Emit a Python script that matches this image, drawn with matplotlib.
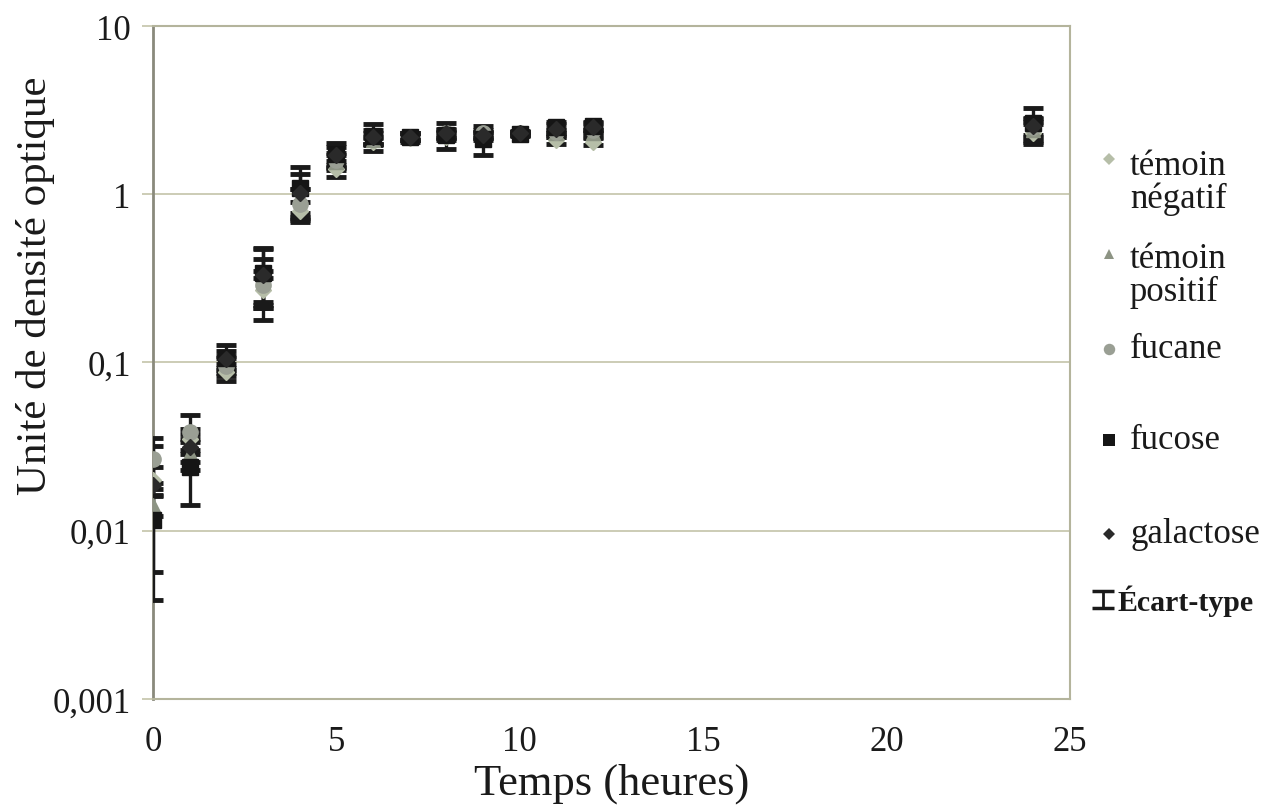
import matplotlib
matplotlib.use("Agg")
import matplotlib.pyplot as plt
from matplotlib.lines import Line2D
from matplotlib.ticker import FixedLocator, NullLocator

plt.rcParams['font.family'] = ['Liberation Serif', 'DejaVu Serif']

# Time points (hours)
time = [0, 1, 2, 3, 4, 5, 6, 7, 8, 9, 10, 11, 12, 24]

# Optical density per condition
temoin_negatif = [0.020, 0.035, 0.088, 0.27, 0.80, 1.42, 2.05, 2.15, 2.20, 2.20, 2.30, 2.10, 2.05, 2.30]
temoin_positif = [0.0142, 0.029, 0.100, 0.31, 0.92, 1.55, 2.10, 2.20, 2.25, 2.25, 2.30, 2.30, 2.30, 2.40]
fucane = [0.0266, 0.0385, 0.095, 0.29, 0.88, 1.60, 2.15, 2.20, 2.30, 2.30, 2.30, 2.35, 2.40, 2.50]
fucose = [0.0116, 0.0239, 0.107, 0.34, 1.09, 1.73, 2.22, 2.20, 2.25, 2.12, 2.28, 2.50, 2.55, 2.65]
galactose = [0.0187, 0.0315, 0.105, 0.33, 1.02, 1.70, 2.20, 2.20, 2.30, 2.25, 2.32, 2.45, 2.50, 2.55]

# Standard deviations
sd_temoin_negatif = [0.004, 0.005, 0.010, 0.05, 0.10, 0.15, 0.10, 0.10, 0.10, 0.10, 0.05, 0.10, 0.10, 0.30]
sd_temoin_positif = [0.002, 0.006, 0.010, 0.10, 0.15, 0.15, 0.10, 0.10, 0.10, 0.10, 0.05, 0.10, 0.10, 0.30]
sd_fucane = [0.009, 0.010, 0.012, 0.06, 0.20, 0.15, 0.15, 0.10, 0.15, 0.10, 0.05, 0.10, 0.10, 0.30]
sd_fucose = [0.0077, 0.0097, 0.020, 0.13, 0.36, 0.30, 0.40, 0.10, 0.40, 0.42, 0.05, 0.20, 0.15, 0.60]
sd_galactose = [0.013, 0.006, 0.012, 0.15, 0.30, 0.20, 0.20, 0.10, 0.10, 0.10, 0.05, 0.15, 0.15, 0.30]

labels = ["témoin\nnégatif", "témoin\npositif", "fucane", "fucose", "galactose"]
series = [temoin_negatif, temoin_positif, fucane, fucose, galactose]
errors = [sd_temoin_negatif, sd_temoin_positif, sd_fucane, sd_fucose, sd_galactose]
colors = ["#b6bea8", "#8d9484", "#9a9f94", "#151515", "#2a2a2a"]
markers = ["D", "^", "o", "s", "D"]
sizes = [8, 10, 11, 11, 8]

fig = plt.figure(figsize=(12.66, 8.12), dpi=100)
ax = fig.add_axes([0.1209, 0.138, 0.7241, 0.8287])

for y, e, c, m, s in zip(series, errors, colors, markers, sizes):
    ax.errorbar(time, y, yerr=e, fmt=m, color=c, markersize=s,
                ecolor="#1a1a1a", elinewidth=2.4, capsize=7, capthick=3.5, zorder=3)

ax.set_yscale('log')
ax.set_xlim(0, 25)
ax.set_ylim(0.001, 10)
ax.yaxis.set_major_locator(FixedLocator([0.001, 0.01, 0.1, 1, 10]))
ax.yaxis.set_minor_locator(NullLocator())
ax.set_yticklabels(["0,001", "0,01", "0,1", "1", "10"])
ax.set_xticks([0, 5, 10, 15, 20, 25])
ax.set_xticklabels(["0", "5", "10", "15", "20", "25"])

ax.grid(axis='y', which='major', color="#c8c8b0", linewidth=1.3)
ax.set_axisbelow(True)
ax.tick_params(axis='y', length=8, width=1.3, color="#c8c8b0", labelsize=25, pad=8, labelcolor="#1a1a1a")
ax.tick_params(axis='x', length=0, labelsize=25, pad=19, labelcolor="#1a1a1a")

for side in ['top', 'right', 'bottom']:
    ax.spines[side].set_color("#b4b49c")
    ax.spines[side].set_linewidth(1.5)
ax.spines['left'].set_color("#8a8a7c")
ax.spines['left'].set_linewidth(2)

ax.set_xlabel("Temps (heures)", fontsize=32, color="#1a1a1a", va='center')
ax.xaxis.set_label_coords(0.5, -0.124)
ax.set_ylabel("Unité de densité optique", fontsize=31, color="#1a1a1a", va='center')
ax.yaxis.set_label_coords(-0.128, 0.615)

# Legend drawn at the right of the plot
W, H = 1266, 812
legend_rows = [(160, 183), (255, 276), (350, 350), (441, 441), (535, 535)]
for (my, ty), lab, c, m, s in zip(legend_rows, labels, colors, markers, sizes):
    fig.add_artist(Line2D([1109 / W], [1 - my / H], marker=m, color=c,
                          markersize=s * 0.75, markeredgewidth=0, linestyle='none',
                          transform=fig.transFigure))
    fig.text(1130 / W, 1 - ty / H, lab, fontsize=25, va='center', ha='left',
             linespacing=1.0, color="#1a1a1a")

fig.add_artist(Line2D([1103 / W, 1103 / W], [1 - 592 / H, 1 - 609 / H], color="#1a1a1a",
                      linewidth=2, marker='_', markersize=16, markeredgewidth=2.5,
                      transform=fig.transFigure))
fig.text(1117 / W, 1 - 601 / H, "Écart-type", fontsize=21.5, fontweight='bold',
         va='center', ha='left', color="#1a1a1a")

fig.savefig("out.png", dpi=100, facecolor="white")
